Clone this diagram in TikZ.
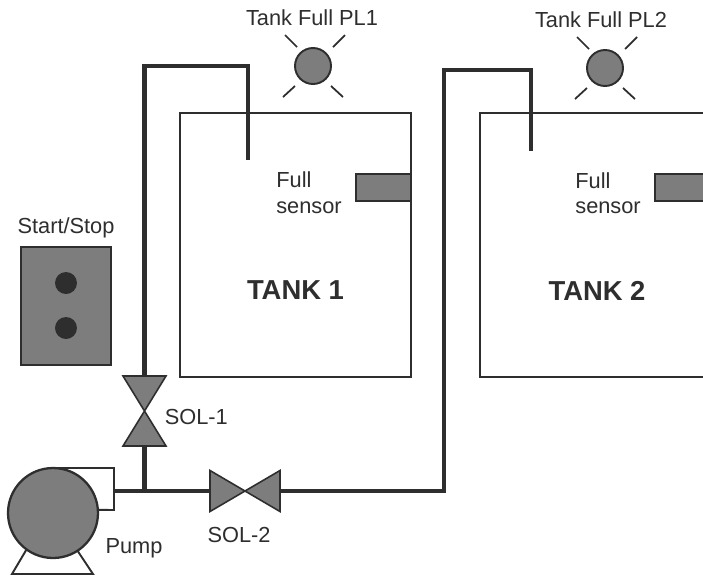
\documentclass[tikz,border=0pt]{standalone}
\usepackage{fontspec}
\setmainfont{Liberation Sans}
\usepackage{xcolor}
\usetikzlibrary{positioning,calc}
\definecolor{ink}{HTML}{2E2E2E}
\definecolor{shade}{HTML}{7D7D7D}
\tikzset{
  tank/.style={draw=ink, line width=1.1pt, minimum width=4.62cm, minimum height=5.28cm, inner sep=0pt, outer sep=0pt},
  sensorbox/.style={draw=ink, fill=shade, line width=1.1pt, minimum width=1.1cm, minimum height=0.54cm, inner sep=0pt, outer sep=0pt},
  lamp/.style={draw=ink, circle, fill=shade, line width=1.1pt, minimum size=0.72cm, inner sep=0pt, outer sep=0pt},
  ray/.style={draw=ink, line width=1pt},
  pipe/.style={draw=ink, line width=2.3pt},
  thinpipe/.style={draw=ink, line width=1.1pt},
  valvebox/.style={inner sep=0pt, outer sep=0pt},
  valvebody/.style={draw=ink, fill=shade, line width=0.9pt, line join=miter},
  panel/.style={draw=ink, fill=shade, line width=0.9pt, minimum width=1.8cm, minimum height=2.36cm, inner sep=0pt, outer sep=0pt},
  knob/.style={circle, fill=ink, minimum size=0.44cm, inner sep=0pt},
  pumpbody/.style={draw=ink, circle, fill=shade, line width=1.3pt, minimum size=1.8cm, inner sep=0pt, outer sep=0pt},
  lbl/.style={text=ink, font=\fontsize{12.4}{14}\selectfont, inner sep=0pt},
  tanklbl/.style={text=ink, font=\fontsize{15.6}{18}\selectfont\bfseries, inner sep=0pt},
}
\begin{document}
\begin{tikzpicture}[x=0.02cm, y=-0.02cm]
  \clip (0,0) rectangle (703,576);
  \fill[white] (0,0) rectangle (703,576);

  % tanks
  \node[tank] (tank1) at (295.5,245) {};
  \node[tank] (tank2) at (595.5,245) {};
  \node[tanklbl] (name1) at (295.5,290) {TANK 1};
  \node[tanklbl] (name2) at (597,291) {TANK 2};
  \node[sensorbox, anchor=east] (sens1) at (411,187.5) {};
  \node[sensorbox, anchor=west] (sens2) at (655,187.5) {};
  \node[lbl, anchor=west] (full1) at (276,180) {Full};
  \node[lbl, anchor=west] (word1) at (276,208) {sensor};
  \node[lbl, anchor=west] (full2) at (575,181) {Full};
  \node[lbl, anchor=west] (word2) at (575,208) {sensor};

  % lamps
  \node[lamp] (pl1) at (313,66) {};
  \node[lamp] (pl2) at (605,68) {};
  \node[lbl] (pl1text) at (312,18) {Tank Full PL1};
  \node[lbl] (pl2text) at (601,20) {Tank Full PL2};
  \foreach \l in {pl1,pl2} {
    \draw[ray] ($(\l)+(-28,-31)$) -- ($(\l)+(-16,-19)$);
    \draw[ray] ($(\l)+(32,-31)$) -- ($(\l)+(20,-19)$);
    \draw[ray] ($(\l)+(-30,31)$) -- ($(\l)+(-18,20)$);
    \draw[ray] ($(\l)+(30,31)$) -- ($(\l)+(18,20)$);
  }

  % start/stop
  \node[panel] (panel) at (66,306) {};
  \node[knob] (btn1) at (66,283) {};
  \node[knob] (btn2) at (66,328) {};
  \node[lbl] (paneltext) at (66,228) {Start/Stop};

  % valves
  \node[valvebox, minimum width=0.86cm, minimum height=1.4cm] (sol1) at (144.5,411) {};
  \node[valvebox, minimum width=1.4cm, minimum height=0.82cm] (sol2) at (245,491) {};
  \draw[valvebody] (sol1.north west) -- (sol1.north east) -- (sol1.south west) -- (sol1.south east) -- cycle;
  \draw[valvebody] (sol2.north west) -- (sol2.south west) -- (sol2.north east) -- (sol2.south east) -- cycle;
  \node[lbl, right=4mm of sol1.center, anchor=west, yshift=-1.2mm] (sol1text) {SOL-1};
  \node[lbl] (sol2text) at (239,535) {SOL-2};

  % pump
  \node[pumpbody] (pump) at (53,513) {};
  \node[lbl] (pumptext) at (134,548) {Pump};
  \coordinate (baseL) at (12,574);
  \coordinate (baseR) at (93,574);
  \coordinate (housing) at (114,468);
  \coordinate (outlet) at (114,491);
  \coordinate (tee) at (144.5,491);
  \draw[thinpipe] (pump.north) -- (housing) -- (114,510) -- (pump.4);
  \draw[thinpipe] (pump.-126) -- (baseL) -- (baseR) -- (pump.-57);

  % pipes
  \coordinate (fill1) at (248,160);
  \coordinate (fill2) at (531,151);
  \draw[pipe] (outlet) -- (sol2.west);
  \draw[pipe] (tee) -- (sol1.south);
  \draw[pipe] (sol1.north) |- (fill1 |- pl1) -- (fill1);
  \draw[pipe] (sol2.east) -| (444,70) -- (fill2 |- 0,70) -- (fill2);
\end{tikzpicture}
\end{document}
